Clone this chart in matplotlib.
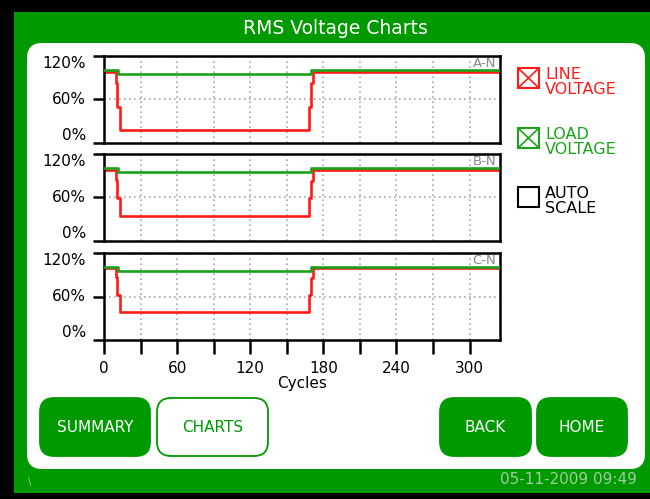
import matplotlib
matplotlib.use("Agg")
import matplotlib.pyplot as plt
from matplotlib.patches import FancyBboxPatch, Rectangle

# ---------------- data ----------------
title = "RMS Voltage Charts"
phase_labels = ["A-N", "B-N", "C-N"]
cycles_line = [0, 9.5, 11, 13, 168, 170, 171.5, 325]
line_voltage = [
    [98, 83, 50, 18, 50, 83, 98, 98],
    [98, 84, 59, 34, 59, 83, 98, 98],
    [99, 87, 62, 39, 62, 86, 99, 99],
]
cycles_load = [0, 11.5, 170, 325]
load_voltage = [
    [100, 95, 100, 100],
    [100, 95, 100, 100],
    [101, 95, 101, 101],
]
x_ticks = [0, 60, 120, 180, 240, 300]
x_minor = [30, 90, 150, 210, 270]
y_ticks = [0, 60, 120]
y_tick_labels = ["0%", "60%", "120%"]
x_label = "Cycles"
legend_items = [("LINE\nVOLTAGE", "#ff1a1a", True),
                ("LOAD\nVOLTAGE", "#1aa31a", True),
                ("AUTO\nSCALE", "black", False)]
buttons = [("SUMMARY", True), ("CHARTS", False), ("BACK", True), ("HOME", True)]
timestamp = "05-11-2009 09:49"

# ---------------- style ----------------
W, H = 650, 499
PANEL = "#009a00"
RED = "#ff1a1a"
GREEN = "#1aa31a"
FONT = "DejaVu Sans"
plt.rcParams["font.family"] = FONT

fig = plt.figure(figsize=(W / 100, H / 100), dpi=100, facecolor="black")

bg = fig.add_axes([0, 0, 1, 1])
bg.set_xlim(0, W)
bg.set_ylim(H, 0)
bg.axis("off")
bg.add_patch(Rectangle((14, 12), W - 14, 481, facecolor=PANEL, edgecolor="none"))
bg.add_patch(FancyBboxPatch((27 + 15, 43 + 15), 618 - 30, 426 - 30,
                            boxstyle="round,pad=15", facecolor="white",
                            edgecolor="none"))
bg.text(335, 28, title, color="white", fontsize=13.5, ha="center", va="center")

# buttons
btn_boxes = [(40, 150), (157, 268), (440, 531), (537, 627)]
for (label, filled), (x0, x1) in zip(buttons, btn_boxes):
    r = 14
    bg.add_patch(FancyBboxPatch((x0 + r, 398 + r), (x1 - x0) - 2 * r, 58 - 2 * r,
                                boxstyle="round,pad=%d" % r,
                                facecolor=PANEL if filled else "white",
                                edgecolor=PANEL, linewidth=1.3))
    bg.text((x0 + x1) / 2, 427, label, color="white" if filled else PANEL,
            fontsize=11, ha="center", va="center")

bg.text(637, 480, timestamp, color="#a0cca0", fontsize=11, ha="right", va="center")
bg.text(30, 482, "\\", color="#a0cca0", fontsize=7, ha="center", va="center")

# legend check boxes
legend_y = [68, 128, 187]
for (label, col, checked), y0 in zip(legend_items, legend_y):
    bg.add_patch(Rectangle((518, y0), 21, 20, facecolor="none", edgecolor=col,
                           linewidth=1.5))
    if checked:
        bg.plot([518, 539], [y0, y0 + 20], color=col, lw=1.2)
        bg.plot([518, 539], [y0 + 20, y0], color=col, lw=1.2)
    bg.text(545, y0 + 14, label, color=col, fontsize=11.5, ha="left",
            va="center", linespacing=0.95)

# chart axes
tops = [56, 154, 253]
ax_h = 87
for i, top in enumerate(tops):
    ax = fig.add_axes([104 / W, 1 - (top + ax_h) / H, 396 / W, ax_h / H])
    ax.set_facecolor("white")
    ax.set_xlim(0, 325)
    ax.set_ylim(0, 120)
    for gx in x_ticks[1:] + x_minor:
        ax.axvline(gx, color="#a8a8a8", lw=1.2, ls=(0, (1, 2)), zorder=1)
    ax.axhline(60, color="#a8a8a8", lw=1.2, ls=(0, (1, 2)), zorder=1)
    ax.axhline(118, color="#a8a8a8", lw=1.2, ls=(0, (1, 2)), zorder=1)
    ax.plot(cycles_load, load_voltage[i], drawstyle="steps-post", color=GREEN,
            lw=1.9, zorder=3)
    ax.plot(cycles_line, line_voltage[i], drawstyle="steps-post", color=RED,
            lw=1.9, zorder=2)
    for s in ax.spines.values():
        s.set_linewidth(1.8)
        s.set_color("black")
    ax.set_yticks(y_ticks)
    ax.set_yticklabels(y_tick_labels, fontsize=11)
    labs = ax.get_yticklabels()
    labs[0].set_va("bottom")
    labs[1].set_va("center")
    labs[2].set_va("top")
    ax.tick_params(axis="y", direction="out", length=8, width=1.8, pad=5)
    ax.text(0.99, 0.985, phase_labels[i], transform=ax.transAxes, color="#888888",
            fontsize=9.5, ha="right", va="top")
    if i == 2:
        ax.set_xticks(sorted(x_ticks + x_minor))
        ax.set_xticklabels([str(t) if t in x_ticks else "" for t in sorted(x_ticks + x_minor)],
                           fontsize=11)
        ax.tick_params(axis="x", direction="out", length=10, width=1.8, pad=5)
        ax.set_xlabel(x_label, fontsize=11, labelpad=0)
    else:
        ax.set_xticks([])

fig.savefig("out.png", dpi=100, facecolor="black")
